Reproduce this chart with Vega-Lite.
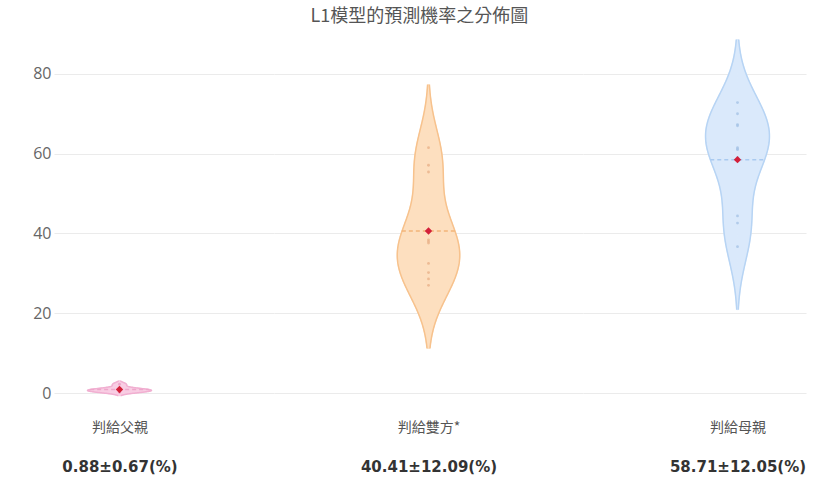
{
  "$schema": "https://vega.github.io/schema/vega-lite/v6.json",
  "padding": {"left": 32, "top": 8, "right": 10, "bottom": 5},
  "background": "white",
  "title": {"text": "L1模型的預測機率之分佈圖", "anchor": "middle", "font": "Noto Sans CJK TC", "fontSize": 18, "fontWeight": "normal", "color": "#555", "offset": 8},
  "datasets": {
    "pts": [
      {"group": "判給父親", "value": 0.2},
      {"group": "判給父親", "value": 0.4},
      {"group": "判給父親", "value": 0.6},
      {"group": "判給父親", "value": 0.7},
      {"group": "判給父親", "value": 0.9},
      {"group": "判給父親", "value": 1.1},
      {"group": "判給父親", "value": 2.2},
      {"group": "判給雙方*", "value": 61.5},
      {"group": "判給雙方*", "value": 57.1},
      {"group": "判給雙方*", "value": 55.4},
      {"group": "判給雙方*", "value": 40.5},
      {"group": "判給雙方*", "value": 38.4},
      {"group": "判給雙方*", "value": 38.0},
      {"group": "判給雙方*", "value": 37.6},
      {"group": "判給雙方*", "value": 32.5},
      {"group": "判給雙方*", "value": 30.2},
      {"group": "判給雙方*", "value": 28.6},
      {"group": "判給雙方*", "value": 27.0},
      {"group": "判給母親", "value": 72.8},
      {"group": "判給母親", "value": 70.0},
      {"group": "判給母親", "value": 67.3},
      {"group": "判給母親", "value": 67.0},
      {"group": "判給母親", "value": 61.5},
      {"group": "判給母親", "value": 61.2},
      {"group": "判給母親", "value": 61.0},
      {"group": "判給母親", "value": 59.0},
      {"group": "判給母親", "value": 44.4},
      {"group": "判給母親", "value": 42.6},
      {"group": "判給母親", "value": 36.7}
    ]
  },
  "data": {"name": "pts"},
  "spacing": 0,
  "resolve": {"scale": {"x": "independent", "y": "independent"}},
  "hconcat": [
    {
      "width": 220, "height": 375,
      "transform": [{"filter": "datum.group === '判給父親'"}],
      "resolve": {"scale": {"x": "independent"}, "axis": {"x": "independent"}},
      "layer": [
        {
          "transform": [{"density": "value", "bandwidth": 0.44, "extent": [-0.68, 3.08]}],
          "mark": {"type": "area", "orient": "horizontal", "fill": "#f8cde3", "stroke": "#f8cde3", "strokeWidth": 1},
          "encoding": {
            "y": {"field": "value", "type": "quantitative", "scale": {"domain": [-4, 90], "nice": false, "zero": false},
                  "axis": {"values": [0, 20, 40, 60, 80], "labels": true, "title": null}},
            "x": {"field": "density", "type": "quantitative", "stack": null,
                  "scale": {"domain": [-1.2937, 3.0515], "nice": false, "zero": false},
                  "axis": {"orient": "bottom", "values": [0], "labelExpr": "'判給父親'", "labels": true, "labelFlush": false, "labelFont": "Noto Sans CJK TC", "labelFontSize": 14, "labelColor": "#555", "labelPadding": 11, "title": null}}
          }
        },
        {
          "transform": [{"density": "value", "bandwidth": 0.44, "extent": [-0.68, 3.08]}],
          "mark": {"type": "area", "orient": "horizontal", "fill": "#f8cde3", "stroke": "#f8cde3", "strokeWidth": 1},
          "encoding": {
            "y": {"field": "value", "type": "quantitative"},
            "x": {"field": "density", "type": "quantitative", "stack": null,
                  "scale": {"domain": [-3.0515, 1.2937], "reverse": true, "nice": false, "zero": false}, "axis": null}
          }
        },
        {
          "transform": [{"density": "value", "bandwidth": 0.44, "extent": [-0.68, 3.08]}],
          "mark": {"type": "line", "stroke": "#f1afd1", "strokeWidth": 1.5},
          "encoding": {
            "y": {"field": "value", "type": "quantitative"},
            "order": {"field": "value", "type": "quantitative"},
            "x": {"field": "density", "type": "quantitative",
                  "scale": {"domain": [-1.2937, 3.0515], "nice": false, "zero": false}, "axis": null}
          }
        },
        {
          "transform": [{"density": "value", "bandwidth": 0.44, "extent": [-0.68, 3.08]}],
          "mark": {"type": "line", "stroke": "#f1afd1", "strokeWidth": 1.5},
          "encoding": {
            "y": {"field": "value", "type": "quantitative"},
            "order": {"field": "value", "type": "quantitative"},
            "x": {"field": "density", "type": "quantitative",
                  "scale": {"domain": [-3.0515, 1.2937], "reverse": true, "nice": false, "zero": false}, "axis": null}
          }
        },
        {
          "mark": {"type": "rule", "strokeDash": [4, 3], "stroke": "#eea6cb", "strokeWidth": 1.5},
          "encoding": {
            "x": {"datum": -0.58, "type": "quantitative", "scale": {"domain": [-1.2937, 3.0515], "nice": false, "zero": false}, "axis": null},
            "x2": {"datum": 0.58},
            "y": {"aggregate": "mean", "field": "value", "type": "quantitative"}
          }
        },
        {
          "mark": {"type": "point", "filled": true, "size": 8, "color": "#e79cc3", "opacity": 0.8},
          "encoding": {
            "x": {"datum": 0, "type": "quantitative", "scale": {"domain": [-1.2937, 3.0515], "nice": false, "zero": false}, "axis": null},
            "y": {"field": "value", "type": "quantitative"}
          }
        },
        {
          "mark": {"type": "point", "shape": "diamond", "filled": true, "size": 55, "color": "#d3203a", "opacity": 1},
          "encoding": {
            "x": {"datum": 0, "type": "quantitative", "scale": {"domain": [-1.2937, 3.0515], "nice": false, "zero": false},
                  "axis": {"orient": "bottom", "values": [0], "labelExpr": "'0.88±0.67(%)'", "labels": true, "labelFlush": false, "labelFont": "DejaVu Sans", "labelFontSize": 15, "labelFontWeight": "bold", "labelColor": "#333", "labelPadding": 50, "title": null}},
            "y": {"aggregate": "mean", "field": "value", "type": "quantitative"}
          }
        }
      ]
    },
    {
      "width": 309, "height": 375,
      "transform": [{"filter": "datum.group === '判給雙方*'"}],
      "resolve": {"scale": {"x": "independent"}, "axis": {"x": "independent"}},
      "layer": [
        {
          "transform": [{"density": "value", "bandwidth": 7.9, "extent": [11.2, 77.3]}],
          "mark": {"type": "area", "orient": "horizontal", "fill": "#fddfbf", "stroke": "#fddfbf", "strokeWidth": 1},
          "encoding": {
            "y": {"field": "value", "type": "quantitative", "scale": {"domain": [-4, 90], "nice": false, "zero": false},
                  "axis": {"values": [0, 20, 40, 60, 80], "labels": false, "title": null}},
            "x": {"field": "density", "type": "quantitative", "stack": null,
                  "scale": {"domain": [-0.153, 0.153], "nice": false, "zero": false},
                  "axis": {"orient": "bottom", "values": [0], "labelExpr": "'判給雙方*'", "labels": true, "labelFlush": false, "labelFont": "Noto Sans CJK TC", "labelFontSize": 14, "labelColor": "#555", "labelPadding": 11, "title": null}}
          }
        },
        {
          "transform": [{"density": "value", "bandwidth": 7.9, "extent": [11.2, 77.3]}],
          "mark": {"type": "area", "orient": "horizontal", "fill": "#fddfbf", "stroke": "#fddfbf", "strokeWidth": 1},
          "encoding": {
            "y": {"field": "value", "type": "quantitative"},
            "x": {"field": "density", "type": "quantitative", "stack": null,
                  "scale": {"domain": [-0.153, 0.153], "reverse": true, "nice": false, "zero": false}, "axis": null}
          }
        },
        {
          "transform": [{"density": "value", "bandwidth": 7.9, "extent": [11.2, 77.3]}],
          "mark": {"type": "line", "stroke": "#f7c28d", "strokeWidth": 1.5},
          "encoding": {
            "y": {"field": "value", "type": "quantitative"},
            "order": {"field": "value", "type": "quantitative"},
            "x": {"field": "density", "type": "quantitative",
                  "scale": {"domain": [-0.153, 0.153], "nice": false, "zero": false}, "axis": null}
          }
        },
        {
          "transform": [{"density": "value", "bandwidth": 7.9, "extent": [11.2, 77.3]}],
          "mark": {"type": "line", "stroke": "#f7c28d", "strokeWidth": 1.5},
          "encoding": {
            "y": {"field": "value", "type": "quantitative"},
            "order": {"field": "value", "type": "quantitative"},
            "x": {"field": "density", "type": "quantitative",
                  "scale": {"domain": [-0.153, 0.153], "reverse": true, "nice": false, "zero": false}, "axis": null}
          }
        },
        {
          "mark": {"type": "rule", "strokeDash": [4, 3], "stroke": "#f2b57a", "strokeWidth": 1.5},
          "encoding": {
            "x": {"datum": -0.0264, "type": "quantitative", "scale": {"domain": [-0.153, 0.153], "nice": false, "zero": false}, "axis": null},
            "x2": {"datum": 0.0264},
            "y": {"aggregate": "mean", "field": "value", "type": "quantitative"}
          }
        },
        {
          "mark": {"type": "point", "filled": true, "size": 8, "color": "#e8b28a", "opacity": 0.8},
          "encoding": {
            "x": {"datum": 0, "type": "quantitative", "scale": {"domain": [-0.153, 0.153], "nice": false, "zero": false}, "axis": null},
            "y": {"field": "value", "type": "quantitative"}
          }
        },
        {
          "mark": {"type": "point", "shape": "diamond", "filled": true, "size": 55, "color": "#d3203a", "opacity": 1},
          "encoding": {
            "x": {"datum": 0, "type": "quantitative", "scale": {"domain": [-0.153, 0.153], "nice": false, "zero": false},
                  "axis": {"orient": "bottom", "values": [0], "labelExpr": "'40.41±12.09(%)'", "labels": true, "labelFlush": false, "labelFont": "DejaVu Sans", "labelFontSize": 15, "labelFontWeight": "bold", "labelColor": "#333", "labelPadding": 50, "title": null}},
            "y": {"aggregate": "mean", "field": "value", "type": "quantitative"}
          }
        }
      ]
    },
    {
      "width": 223, "height": 375,
      "transform": [{"filter": "datum.group === '判給母親'"}],
      "resolve": {"scale": {"x": "independent"}, "axis": {"x": "independent"}},
      "layer": [
        {
          "transform": [{"density": "value", "bandwidth": 7.9, "extent": [20.9, 88.6]}],
          "mark": {"type": "area", "orient": "horizontal", "fill": "#dae9fb", "stroke": "#dae9fb", "strokeWidth": 1},
          "encoding": {
            "y": {"field": "value", "type": "quantitative", "scale": {"domain": [-4, 90], "nice": false, "zero": false},
                  "axis": {"values": [0, 20, 40, 60, 80], "labels": false, "title": null}},
            "x": {"field": "density", "type": "quantitative", "stack": null,
                  "scale": {"domain": [-0.15208, 0.06743], "nice": false, "zero": false},
                  "axis": {"orient": "bottom", "values": [0], "labelExpr": "'判給母親'", "labels": true, "labelFlush": false, "labelFont": "Noto Sans CJK TC", "labelFontSize": 14, "labelColor": "#555", "labelPadding": 11, "title": null}}
          }
        },
        {
          "transform": [{"density": "value", "bandwidth": 7.9, "extent": [20.9, 88.6]}],
          "mark": {"type": "area", "orient": "horizontal", "fill": "#dae9fb", "stroke": "#dae9fb", "strokeWidth": 1},
          "encoding": {
            "y": {"field": "value", "type": "quantitative"},
            "x": {"field": "density", "type": "quantitative", "stack": null,
                  "scale": {"domain": [-0.06743, 0.15208], "reverse": true, "nice": false, "zero": false}, "axis": null}
          }
        },
        {
          "transform": [{"density": "value", "bandwidth": 7.9, "extent": [20.9, 88.6]}],
          "mark": {"type": "line", "stroke": "#b7d4f4", "strokeWidth": 1.5},
          "encoding": {
            "y": {"field": "value", "type": "quantitative"},
            "order": {"field": "value", "type": "quantitative"},
            "x": {"field": "density", "type": "quantitative",
                  "scale": {"domain": [-0.15208, 0.06743], "nice": false, "zero": false}, "axis": null}
          }
        },
        {
          "transform": [{"density": "value", "bandwidth": 7.9, "extent": [20.9, 88.6]}],
          "mark": {"type": "line", "stroke": "#b7d4f4", "strokeWidth": 1.5},
          "encoding": {
            "y": {"field": "value", "type": "quantitative"},
            "order": {"field": "value", "type": "quantitative"},
            "x": {"field": "density", "type": "quantitative",
                  "scale": {"domain": [-0.06743, 0.15208], "reverse": true, "nice": false, "zero": false}, "axis": null}
          }
        },
        {
          "mark": {"type": "rule", "strokeDash": [4, 3], "stroke": "#a9caf0", "strokeWidth": 1.5},
          "encoding": {
            "x": {"datum": -0.0268, "type": "quantitative", "scale": {"domain": [-0.15208, 0.06743], "nice": false, "zero": false}, "axis": null},
            "x2": {"datum": 0.0268},
            "y": {"aggregate": "mean", "field": "value", "type": "quantitative"}
          }
        },
        {
          "mark": {"type": "point", "filled": true, "size": 8, "color": "#a6c3e6", "opacity": 0.8},
          "encoding": {
            "x": {"datum": 0, "type": "quantitative", "scale": {"domain": [-0.15208, 0.06743], "nice": false, "zero": false}, "axis": null},
            "y": {"field": "value", "type": "quantitative"}
          }
        },
        {
          "mark": {"type": "point", "shape": "diamond", "filled": true, "size": 55, "color": "#d3203a", "opacity": 1},
          "encoding": {
            "x": {"datum": 0, "type": "quantitative", "scale": {"domain": [-0.15208, 0.06743], "nice": false, "zero": false},
                  "axis": {"orient": "bottom", "values": [0], "labelExpr": "'58.71±12.05(%)'", "labels": true, "labelFlush": false, "labelFont": "DejaVu Sans", "labelFontSize": 15, "labelFontWeight": "bold", "labelColor": "#333", "labelPadding": 50, "title": null}},
            "y": {"aggregate": "mean", "field": "value", "type": "quantitative"}
          }
        }
      ]
    }
  ],
  "config": {
    "view": {"stroke": null},
    "axisY": {"ticks": false, "domain": false, "grid": true, "gridColor": "#ebebeb", "gridWidth": 1,
              "labelFont": "Open Sans", "labelFontSize": 16, "labelColor": "#666", "labelPadding": 3},
    "axisX": {"ticks": false, "domain": false, "grid": false}
  }
}
